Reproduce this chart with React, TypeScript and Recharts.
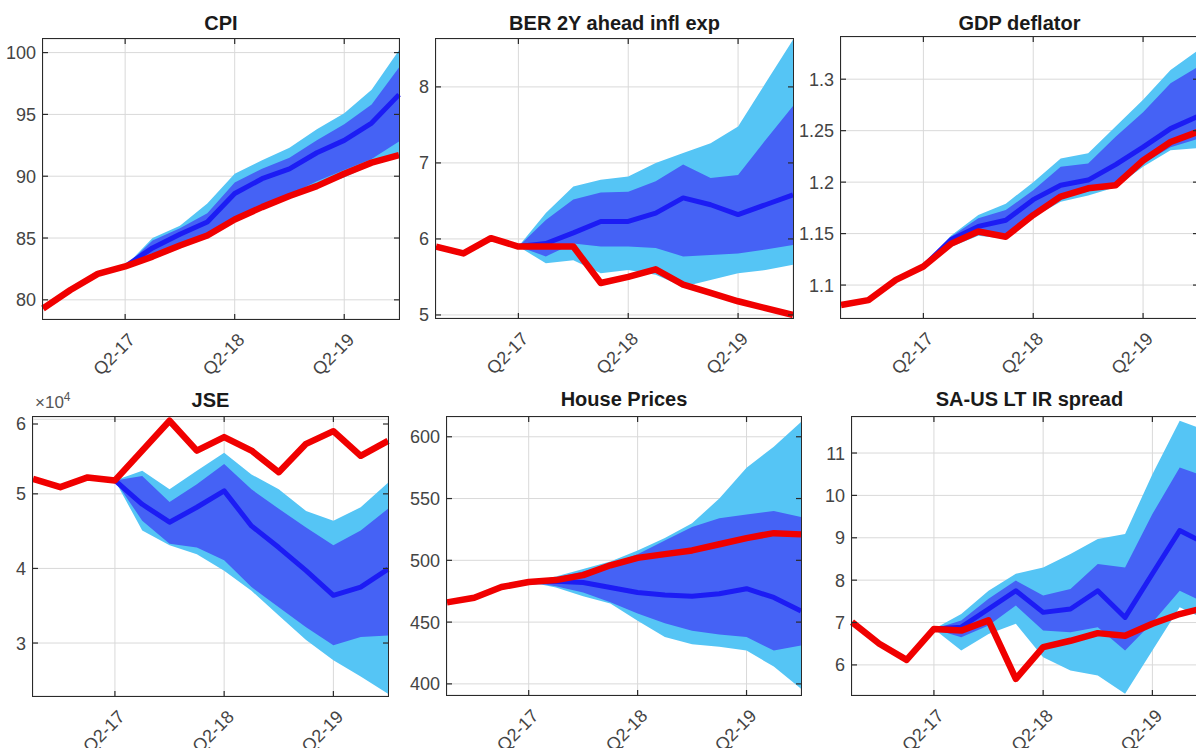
import React from 'react';
import { ComposedChart, Area, Line, XAxis, YAxis, CartesianGrid } from 'recharts';

const quarters = ['Q3-16', 'Q4-16', 'Q1-17', 'Q2-17', 'Q3-17', 'Q4-17', 'Q1-18', 'Q2-18', 'Q3-18', 'Q4-18', 'Q1-19', 'Q2-19', 'Q3-19', 'Q4-19'];
const xTickLabels = ['Q2-17', 'Q2-18', 'Q2-19'];
const N = null;

// CPI
const cpiActual = [79.3, 80.8, 82.1, 82.7, 83.5, 84.4, 85.2, 86.5, 87.5, 88.4, 89.2, 90.2, 91.1, 91.7];
const cpiMedian = [N, N, N, 82.7, 84.2, 85.3, 86.3, 88.6, 89.8, 90.6, 91.9, 92.9, 94.3, 96.6];
const cpiLo68 = [N, N, N, 82.7, 83.6, 84.6, 85.4, 86.6, 87.7, 88.5, 89.6, 90.5, 91.4, 92.8];
const cpiHi68 = [N, N, N, 82.7, 84.8, 85.8, 87.0, 89.5, 90.6, 91.5, 92.9, 94.2, 95.8, 98.8];
const cpiLo90 = [N, N, N, 82.7, 83.4, 84.4, 85.1, 86.4, 87.5, 88.3, 89.2, 89.9, 90.9, 91.5];
const cpiHi90 = [N, N, N, 82.7, 85.0, 86.0, 87.8, 90.2, 91.3, 92.3, 93.8, 95.1, 97.0, 100.2];
const cpiTicks = [80, 85, 90, 95, 100];

// BER 2Y ahead inflation expectations
const berActual = [5.9, 5.81, 6.01, 5.9, 5.9, 5.9, 5.42, 5.5, 5.6, 5.4, 5.29, 5.18, 5.09, 5.0];
const berMedian = [N, N, N, 5.9, 5.94, 6.08, 6.23, 6.23, 6.34, 6.54, 6.45, 6.32, 6.45, 6.58];
const berLo68 = [N, N, N, 5.9, 5.77, 5.94, 5.9, 5.9, 5.88, 5.77, 5.79, 5.81, 5.86, 5.92];
const berHi68 = [N, N, N, 5.9, 6.25, 6.52, 6.61, 6.62, 6.76, 6.98, 6.8, 6.84, 7.3, 7.75];
const berLo90 = [N, N, N, 5.9, 5.68, 5.72, 5.55, 5.59, 5.53, 5.37, 5.46, 5.55, 5.59, 5.66];
const berHi90 = [N, N, N, 5.9, 6.34, 6.69, 6.78, 6.82, 7.0, 7.13, 7.26, 7.48, 8.05, 8.62];
const berTicks = [5, 6, 7, 8];

// GDP deflator
const gdpActual = [1.0806, 1.0854, 1.105, 1.118, 1.14, 1.152, 1.147, 1.168, 1.186, 1.194, 1.197, 1.221, 1.239, 1.249];
const gdpMedian = [N, N, N, 1.118, 1.144, 1.157, 1.163, 1.183, 1.197, 1.202, 1.217, 1.234, 1.252, 1.264];
const gdpLo68 = [N, N, N, 1.118, 1.14, 1.15, 1.148, 1.17, 1.184, 1.191, 1.199, 1.218, 1.234, 1.242];
const gdpHi68 = [N, N, N, 1.118, 1.147, 1.165, 1.173, 1.192, 1.215, 1.218, 1.244, 1.268, 1.296, 1.312];
const gdpLo90 = [N, N, N, 1.118, 1.137, 1.148, 1.145, 1.166, 1.181, 1.187, 1.195, 1.215, 1.231, 1.233];
const gdpHi90 = [N, N, N, 1.118, 1.148, 1.168, 1.179, 1.2, 1.223, 1.228, 1.254, 1.28, 1.309, 1.328];
const gdpTicks = [1.1, 1.15, 1.2, 1.25, 1.3];

// JSE
const jseActual = [52000, 50900, 52200, 51800, 55800, 59800, 55800, 57600, 55800, 52900, 56700, 58400, 55100, 57100];
const jseMedian = [N, N, N, 51800, 48600, 46200, 48200, 50400, 45700, 42800, 39700, 36400, 37500, 39900];
const jseLo68 = [N, N, N, 51800, 46400, 43300, 42800, 41100, 37500, 34800, 32100, 29700, 30800, 31000];
const jseHi68 = [N, N, N, 51800, 52400, 48900, 51300, 54000, 50600, 48000, 45500, 43100, 45100, 48000];
const jseLo90 = [N, N, N, 51800, 45100, 43100, 41900, 39700, 37000, 33700, 30400, 27700, 25500, 23200];
const jseHi90 = [N, N, N, 51800, 53100, 50600, 53100, 55500, 52600, 50600, 47700, 46400, 48200, 51500];
const jseTicks = [30000, 40000, 50000, 60000];

// House Prices
const houseActual = [466, 469.7, 478.4, 482.4, 484, 488, 496, 502, 505, 508, 513, 518, 522, 521];
const houseMedian = [N, N, N, 482.4, 483, 482, 478, 474, 472, 471, 473, 477, 470, 459];
const houseLo68 = [N, N, N, 482.4, 479, 474, 466, 457, 449, 443, 440, 438, 427, 431];
const houseHi68 = [N, N, N, 482.4, 486, 491, 497, 505, 516, 527, 534, 537, 540, 535];
const houseLo90 = [N, N, N, 482.4, 478, 471, 465, 451, 438, 432, 430, 427, 414, 396];
const houseHi90 = [N, N, N, 482.4, 487, 493, 499, 508, 518, 530, 550, 575, 592, 612];
const houseTicks = [400, 450, 500, 550, 600];

// SA-US LT IR spread
const spreadActual = [7.01, 6.5, 6.12, 6.85, 6.81, 7.05, 5.67, 6.42, 6.57, 6.75, 6.69, 6.97, 7.2, 7.36];
const spreadMedian = [N, N, N, 6.85, 6.89, 7.32, 7.75, 7.24, 7.32, 7.75, 7.12, 8.15, 9.17, 8.85];
const spreadLo68 = [N, N, N, 6.85, 6.65, 6.93, 7.4, 6.81, 6.77, 6.89, 6.34, 7.0, 7.75, 7.44];
const spreadHi68 = [N, N, N, 6.85, 7.05, 7.56, 7.99, 7.64, 7.79, 8.38, 8.3, 9.56, 10.66, 10.43];
const spreadLo90 = [N, N, N, 6.85, 6.34, 6.73, 6.97, 6.18, 5.87, 5.75, 5.32, 6.34, 7.36, 7.05];
const spreadHi90 = [N, N, N, 6.85, 7.2, 7.75, 8.15, 8.3, 8.62, 8.97, 9.09, 10.5, 11.76, 11.53];
const spreadTicks = [6, 7, 8, 9, 10, 11];

type Num = number | null;
function build(actual: Num[], median: Num[], lo68: Num[], hi68: Num[], lo90: Num[], hi90: Num[]) {
  return quarters.map((q, i) => ({
    q,
    actual: actual[i],
    median: median[i],
    band68: lo68[i] == null ? null : [lo68[i], hi68[i]],
    band90: lo90[i] == null ? null : [lo90[i], hi90[i]],
  }));
}

const FONT = '"Liberation Sans", Arial, Helvetica, sans-serif';
const TICK_COLOR = '#444444';
const FRAME = '#2a2a2a';
const LIGHT = '#55c5f5';
const DARK = '#4562f5';
const MEDIAN = '#1c1cf4';
const RED = '#f00000';

const panels = [
  { title: 'CPI', data: build(cpiActual, cpiMedian, cpiLo68, cpiHi68, cpiLo90, cpiHi90), domain: [78.45, 101.1], ticks: cpiTicks, fmt: (v: number) => String(v), rect: { l: 43, t: 39, r: 399, b: 319 }, titleBase: 30 },
  { title: 'BER 2Y ahead infl exp', data: build(berActual, berMedian, berLo68, berHi68, berLo90, berHi90), domain: [4.96, 8.63], ticks: berTicks, fmt: (v: number) => String(v), rect: { l: 436, t: 39, r: 793, b: 318 }, titleBase: 30 },
  { title: 'GDP deflator', data: build(gdpActual, gdpMedian, gdpLo68, gdpHi68, gdpLo90, gdpHi90), domain: [1.068, 1.341], ticks: gdpTicks, fmt: (v: number) => String(v), rect: { l: 841, t: 37, r: 1198, b: 318 }, titleBase: 30 },
  { title: 'JSE', data: build(jseActual, jseMedian, jseLo68, jseHi68, jseLo90, jseHi90), domain: [22900, 60300], ticks: jseTicks, fmt: (v: number) => String(v / 10000), rect: { l: 33, t: 417, r: 388, b: 696 }, titleBase: 407 },
  { title: 'House Prices', data: build(houseActual, houseMedian, houseLo68, houseHi68, houseLo90, houseHi90), domain: [391, 616], ticks: houseTicks, fmt: (v: number) => String(v), rect: { l: 447, t: 417, r: 801, b: 695 }, titleBase: 406 },
  { title: 'SA-US LT IR spread', data: build(spreadActual, spreadMedian, spreadLo68, spreadHi68, spreadLo90, spreadHi90), domain: [5.29, 11.85], ticks: spreadTicks, fmt: (v: number) => String(v), rect: { l: 852, t: 417, r: 1207, b: 695 }, titleBase: 406 },
];

const TM = 5; // inward tick mark length

const XTick = (props: any) => {
  const { x, y, payload, plotH } = props;
  const ax = x + 11;
  const ay = y + 22;
  return (
    <g>
      <line x1={x} y1={y} x2={x} y2={y - TM} stroke={FRAME} strokeWidth={1.2} />
      <line x1={x} y1={y - plotH} x2={x} y2={y - plotH + TM} stroke={FRAME} strokeWidth={1.2} />
      <text x={ax} y={ay} textAnchor="end" transform={`rotate(-45 ${ax} ${ay})`} fill={TICK_COLOR} fontSize={18} fontFamily={FONT}>
        {payload.value}
      </text>
    </g>
  );
};

const YTick = (props: any) => {
  const { x, y, payload, plotW, fmt, gap } = props;
  const lx = x + gap;
  return (
    <g>
      <line x1={lx} y1={y} x2={lx + TM} y2={y} stroke={FRAME} strokeWidth={1.2} />
      <line x1={lx + plotW} y1={y} x2={lx + plotW - TM} y2={y} stroke={FRAME} strokeWidth={1.2} />
      <text x={x} y={y} dy="0.36em" textAnchor="end" fill={TICK_COLOR} fontSize={18} fontFamily={FONT}>
        {fmt(payload.value)}
      </text>
    </g>
  );
};

const YW = 60;
const TOP = 2;
const RIGHT = 2;
const XH = 70;
const GAP = 7;

function Panel({ p }: { p: (typeof panels)[number] }) {
  const w = p.rect.r - p.rect.l;
  const h = p.rect.b - p.rect.t;
  return (
    <>
      <div style={{ position: 'absolute', left: p.rect.l - YW, top: p.rect.t - TOP }}>
        <ComposedChart width={YW + w + RIGHT} height={TOP + h + XH} data={p.data} margin={{ top: TOP, right: RIGHT, left: 0, bottom: 0 }}>
          <CartesianGrid stroke="#d9d9d9" strokeWidth={1} />
          <Area dataKey="band90" type="linear" stroke="none" fill={LIGHT} fillOpacity={1} isAnimationActive={false} connectNulls={false} dot={false} activeDot={false} />
          <Area dataKey="band68" type="linear" stroke="none" fill={DARK} fillOpacity={1} isAnimationActive={false} connectNulls={false} dot={false} activeDot={false} />
          <Line dataKey="median" type="linear" stroke={MEDIAN} strokeWidth={5} dot={false} activeDot={false} isAnimationActive={false} strokeLinejoin="round" />
          <Line dataKey="actual" type="linear" stroke={RED} strokeWidth={6.5} dot={false} activeDot={false} isAnimationActive={false} strokeLinejoin="round" />
          <XAxis dataKey="q" type="category" scale="point" ticks={xTickLabels} interval={0} tick={(tp: any) => <XTick {...tp} plotH={h} />} tickLine={false} axisLine={false} tickSize={0} tickMargin={0} height={XH} padding={{ left: 0, right: 0 }} />
          <YAxis type="number" domain={p.domain as [number, number]} ticks={p.ticks} allowDataOverflow width={YW} tick={(tp: any) => <YTick {...tp} plotW={w} fmt={p.fmt} gap={GAP} />} tickLine={false} axisLine={false} tickSize={0} tickMargin={GAP} />
        </ComposedChart>
      </div>
      <div style={{ position: 'absolute', left: p.rect.l - 1, top: p.rect.t - 1, width: w + 2, height: h + 2, boxSizing: 'border-box', border: `1.5px solid ${FRAME}`, pointerEvents: 'none' }} />
      <div style={{ position: 'absolute', left: p.rect.l, width: w, top: p.titleBase - 17, textAlign: 'center', fontFamily: FONT, fontWeight: 'bold', fontSize: 20, lineHeight: '20px', color: '#1a1a1a', whiteSpace: 'nowrap' }}>
        {p.title}
      </div>
    </>
  );
}

export default function App() {
  return (
    <div style={{ position: 'fixed', left: 0, top: 0, width: 1196, height: 748, overflow: 'hidden', background: '#fff' }}>
      {panels.map((p) => (
        <Panel key={p.title} p={p} />
      ))}
      <div style={{ position: 'absolute', left: 35, top: 394, fontFamily: FONT, fontSize: 17, lineHeight: '17px', color: '#555', whiteSpace: 'nowrap' }}>
        ×10<sup style={{ fontSize: 12, verticalAlign: 'top', position: 'relative', top: -5 }}>4</sup>
      </div>
    </div>
  );
}
